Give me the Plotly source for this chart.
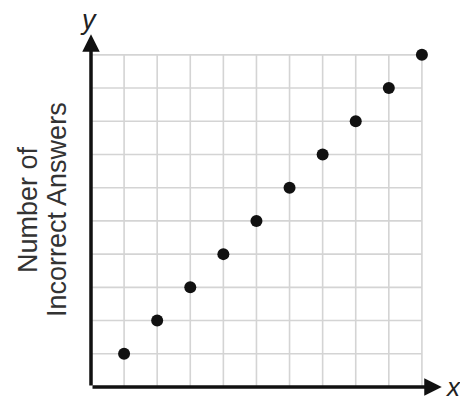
import plotly.graph_objects as go

# Data
x_vals = [1, 2, 3, 4, 5, 6, 7, 8, 9, 10]
y_vals = [1, 2, 3, 4, 5, 6, 7, 8, 9, 10]
grid_ticks = [1, 2, 3, 4, 5, 6, 7, 8, 9, 10]
grid_max = 10
y_title_lines = ["Number of", "Incorrect Answers"]

fig = go.Figure()

# grid lines
shapes = []
for t in grid_ticks:
    shapes.append(dict(type="line", xref="x", yref="y", x0=t, x1=t, y0=0, y1=grid_max,
                       line=dict(color="#d4d4d4", width=1.6), layer="below"))
    shapes.append(dict(type="line", xref="x", yref="y", x0=0, x1=grid_max, y0=t, y1=t,
                       line=dict(color="#d4d4d4", width=1.6), layer="below"))

fig.add_trace(go.Scatter(
    x=x_vals, y=y_vals, mode="markers",
    marker=dict(color="#111111", size=12, line=dict(width=0)),
    showlegend=False, hoverinfo="skip"))

annotations = [
    # x axis arrow
    dict(x=10.6, y=0, ax=0, ay=0, xref="x", yref="y", axref="x", ayref="y",
         text="", showarrow=True, arrowhead=2, arrowsize=1, arrowwidth=3.5,
         arrowcolor="#111111", standoff=0, startstandoff=0),
    # y axis arrow
    dict(x=0, y=10.62, ax=0, ay=0, xref="x", yref="y", axref="x", ayref="y",
         text="", showarrow=True, arrowhead=2, arrowsize=1, arrowwidth=3.5,
         arrowcolor="#111111", standoff=0, startstandoff=0),
    dict(x=0, y=11.05, xref="x", yref="y", text="<i>y</i>", showarrow=False,
         xshift=-3, font=dict(family="Liberation Sans, Arial", size=27, color="#222222"),
         xanchor="center", yanchor="middle"),
    dict(x=10.6, y=0, xref="x", yref="y", text="<i>x</i>", showarrow=False,
         xshift=11, font=dict(family="Liberation Sans, Arial", size=26, color="#222222"),
         xanchor="center", yanchor="middle"),
    dict(x=0, y=5.33, xref="x", yref="y", text=y_title_lines[0], showarrow=False,
         textangle=-90, xshift=-63, xanchor="center", yanchor="middle",
         font=dict(family="Liberation Sans, Arial", size=27, color="#333333")),
    dict(x=0, y=5.33, xref="x", yref="y", text=y_title_lines[1], showarrow=False,
         textangle=-90, xshift=-34, xanchor="center", yanchor="middle",
         font=dict(family="Liberation Sans, Arial", size=27, color="#333333")),
]

fig.update_layout(
    width=460, height=401, autosize=False,
    margin=dict(l=91, r=5, t=5, b=14),
    paper_bgcolor="white", plot_bgcolor="white",
    xaxis=dict(range=[0, 11.0], visible=False, fixedrange=True),
    yaxis=dict(range=[0, 11.5], visible=False, fixedrange=True),
    shapes=shapes, annotations=annotations,
)

fig.write_html("out.html", config={"displayModeBar": False},
               post_script="document.body.style.margin='0';document.body.style.overflow='hidden';")
